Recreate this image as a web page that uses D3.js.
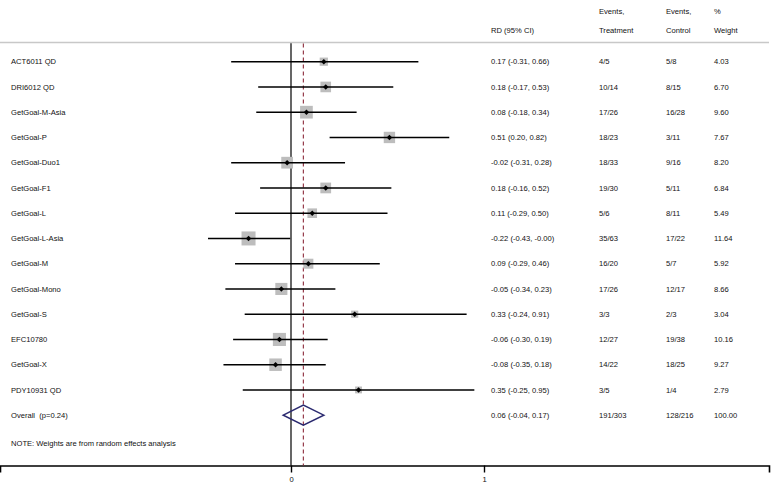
<!DOCTYPE html>
<html>
<head>
<meta charset="utf-8">
<script src="https://cdn.jsdelivr.net/npm/d3@7"></script>
<style>
  html, body { margin: 0; padding: 0; background: #fff; }
  svg { display: block; }
  text { font-family: "Liberation Sans", Arial, sans-serif; font-size: 7.6px; fill: #111; white-space: pre; }
</style>
</head>
<body>
<svg id="chart" width="771" height="487"></svg>
<script>
// ---- data ----
const studies = ["ACT6011 QD", "DRI6012 QD", "GetGoal-M-Asia", "GetGoal-P", "GetGoal-Duo1",
  "GetGoal-F1", "GetGoal-L", "GetGoal-L-Asia", "GetGoal-M", "GetGoal-Mono", "GetGoal-S",
  "EFC10780", "GetGoal-X", "PDY10931 QD"];
const rd     = [0.17, 0.18, 0.08, 0.51, -0.02, 0.18, 0.11, -0.22, 0.09, -0.05, 0.33, -0.06, -0.08, 0.35];
const ciLow  = [-0.31, -0.17, -0.18, 0.20, -0.31, -0.16, -0.29, -0.43, -0.29, -0.34, -0.24, -0.30, -0.35, -0.25];
const ciHigh = [0.66, 0.53, 0.34, 0.82, 0.28, 0.52, 0.50, -0.004, 0.46, 0.23, 0.91, 0.19, 0.18, 0.95];
const eventsTreatment = ["4/5", "10/14", "17/26", "18/23", "18/33", "19/30", "5/6", "35/63", "16/20", "17/26", "3/3", "12/27", "14/22", "3/5"];
const eventsControl   = ["5/8", "8/15", "16/28", "3/11", "9/16", "5/11", "8/11", "17/22", "5/7", "12/17", "2/3", "19/38", "18/25", "1/4"];
const weights = [4.03, 6.70, 9.60, 7.67, 8.20, 6.84, 5.49, 11.64, 5.92, 8.66, 3.04, 10.16, 9.27, 2.79];
const overall = { label: "Overall  (p=0.24)", rd: 0.064, lo: -0.04, hi: 0.17, treat: "191/303", ctrl: "128/216", weight: 100.00, rdText: "0.06" };
const axisTicks = [0, 1];
const note = "NOTE: Weights are from random effects analysis";

// ---- layout ----
const svg = d3.select("#chart");
const x = d3.scaleLinear().domain([0, 1]).range([291, 484]);
const rowY = d3.scaleLinear().domain([0, 1]).range([61.7, 86.95]);
const sq = d3.scaleSqrt().domain([0, 11.64]).range([0, 14]);
const colX = { label: 11, rd: 491, treat: 599, ctrl: 666, weight: 714 };
const f2 = v => v.toFixed(2);
const ciText = (r, l, h) => `${f2(r)} (${f2(l)}, ${f2(h)})`;

const topY = 42.5, axisY = 465.5;

// header
const hdr = svg.append("g");
[["Events,", colX.treat, 11], ["Events,", colX.ctrl, 11], ["%", colX.weight, 11],
 ["RD (95% CI)", colX.rd, 30], ["Treatment", colX.treat, 30], ["Control", colX.ctrl, 30], ["Weight", colX.weight, 30]]
  .forEach(([t, tx, ty]) => hdr.append("text").attr("x", tx).attr("y", ty).attr("dy", "0.35em").text(t));
svg.append("line").attr("x1", 0).attr("x2", 769).attr("y1", topY).attr("y2", topY)
  .attr("stroke", "#c8c8c8").attr("stroke-width", 1.5);

// axis across full width
const xAxisScale = d3.scaleLinear().domain([x.invert(0), x.invert(769)]).range([0, 769]);
const axis = svg.append("g").attr("transform", `translate(0,${axisY})`)
  .call(d3.axisBottom(xAxisScale).tickValues(axisTicks).tickSizeOuter(0).tickSize(7).tickFormat(d3.format("d")));
axis.select(".domain").attr("stroke", "#000").attr("stroke-width", 1.6);
axis.selectAll(".tick line").attr("stroke", "#000").attr("stroke-width", 1.4);
axis.selectAll(".tick text").attr("y", 14).attr("dy", "0.35em").style("font-family", "Liberation Sans, Arial, sans-serif").style("font-size", "7.6px").attr("fill", "#111");

// zero line
svg.append("line").attr("x1", x(0)).attr("x2", x(0)).attr("y1", topY + 0.8).attr("y2", axisY)
  .attr("stroke", "#000").attr("stroke-width", 1.2);
// overall dashed line
svg.append("line").attr("x1", x(overall.rd)).attr("x2", x(overall.rd)).attr("y1", topY + 1).attr("y2", axisY)
  .attr("stroke", "#8c2a3a").attr("stroke-width", 1.1).attr("stroke-dasharray", "4,3");

// study rows
const rows = svg.append("g").selectAll("g").data(studies).join("g");
rows.append("text").attr("x", colX.label).attr("y", (d, i) => rowY(i)).attr("dy", "0.35em").text(d => d);
rows.append("rect")
  .attr("x", (d, i) => x(rd[i]) - sq(weights[i]) / 2)
  .attr("y", (d, i) => rowY(i) - sq(weights[i]) / 2)
  .attr("width", (d, i) => sq(weights[i])).attr("height", (d, i) => sq(weights[i]))
  .attr("fill", "#bdbdbd");
rows.append("line")
  .attr("x1", (d, i) => x(ciLow[i])).attr("x2", (d, i) => x(ciHigh[i]))
  .attr("y1", (d, i) => rowY(i)).attr("y2", (d, i) => rowY(i))
  .attr("stroke", "#000").attr("stroke-width", 1.6);
rows.append("path")
  .attr("d", d3.symbol(d3.symbolSquare, 15))
  .attr("transform", (d, i) => `translate(${x(rd[i])},${rowY(i)}) rotate(45)`)
  .attr("fill", "#000");
rows.append("text").attr("x", colX.rd).attr("y", (d, i) => rowY(i)).attr("dy", "0.35em")
  .text((d, i) => ciText(rd[i], ciLow[i], ciHigh[i]));
rows.append("text").attr("x", colX.treat).attr("y", (d, i) => rowY(i)).attr("dy", "0.35em").text((d, i) => eventsTreatment[i]);
rows.append("text").attr("x", colX.ctrl).attr("y", (d, i) => rowY(i)).attr("dy", "0.35em").text((d, i) => eventsControl[i]);
rows.append("text").attr("x", colX.weight).attr("y", (d, i) => rowY(i)).attr("dy", "0.35em").text((d, i) => f2(weights[i]));

// overall row
const oy = rowY(studies.length);
const oh = 10;
svg.append("path")
  .attr("d", `M${x(overall.lo)},${oy} L${x(overall.rd)},${oy - oh} L${x(overall.hi)},${oy} L${x(overall.rd)},${oy + oh} Z`)
  .attr("fill", "none").attr("stroke", "#2b2a70").attr("stroke-width", 1.5);
svg.append("text").attr("x", colX.label).attr("y", oy).attr("dy", "0.35em").text(overall.label);
svg.append("text").attr("x", colX.rd).attr("y", oy).attr("dy", "0.35em").text(`${overall.rdText} (${f2(overall.lo)}, ${f2(overall.hi)})`);
svg.append("text").attr("x", colX.treat).attr("y", oy).attr("dy", "0.35em").text(overall.treat);
svg.append("text").attr("x", colX.ctrl).attr("y", oy).attr("dy", "0.35em").text(overall.ctrl);
svg.append("text").attr("x", colX.weight).attr("y", oy).attr("dy", "0.35em").text(f2(overall.weight));

// note
svg.append("text").attr("x", colX.label).attr("y", 443).attr("dy", "0.35em").text(note);
</script>
</body>
</html>
